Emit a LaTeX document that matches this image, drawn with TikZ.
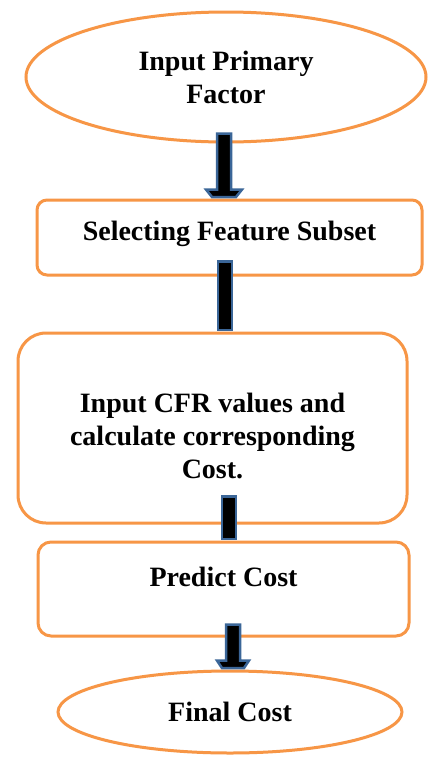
\documentclass[tikz,border=0pt]{standalone}
\usepackage{fontspec}
\setmainfont{Liberation Serif}
\usetikzlibrary{shapes.geometric,calc}
\definecolor{boxorange}{HTML}{F79646}
\definecolor{arrowblue}{HTML}{3B6698}
\tikzset{
  flowshape/.style={draw=boxorange, line width=3pt, fill=white, inner sep=0pt,
    font=\fontsize{28}{33}\selectfont\bfseries, align=center},
  oval/.style={flowshape, ellipse},
  roundbox/.style={flowshape, rectangle},
  blockarrow/.style={fill=black, draw=arrowblue, line width=2.5pt, line join=miter}
}
\begin{document}
\begin{tikzpicture}[x=1pt,y=-1pt]
\useasboundingbox (0,0) rectangle (428,763);
\fill[white] (0,0) rectangle (428,763);

\node[oval, minimum width=400pt, minimum height=130pt] (e1) at (226,77) {Input Primary\\Factor};
\node[roundbox, rounded corners=10pt, minimum width=385pt, minimum height=75pt,
      text height=19pt, text depth=13.4pt] (b1) at (229.5,237.5) {Selecting Feature Subset};
\node[roundbox, rounded corners=28pt, minimum width=389pt, minimum height=190pt] (b2) at (212.5,428)
      {\rule{0pt}{35pt}Input CFR values and\\calculate corresponding\\Cost.};
\node[roundbox, rounded corners=13pt, minimum width=371pt, minimum height=94pt,
      text height=19pt, text depth=24.4pt] (b3) at (223.5,589) {Predict Cost};
\node[oval, minimum width=344pt, minimum height=82pt] (e2) at (230,712) {Final Cost};

% e1 -> b1 (with head)
\draw[blockarrow] let \p1=(e1.south), \p2=(b1.north) in
  (217pt,\y1+10pt) -- (231pt,\y1+10pt) -- (231pt,\y2+9pt) -- (242pt,\y2+9pt)
  -- (236pt,\y2+1.5pt) -- (212pt,\y2+1.5pt) -- (206pt,\y2+9pt) -- (217pt,\y2+9pt) -- cycle;
% b1 -> b2
\draw[blockarrow] let \p1=(b1.south), \p2=(b2.north) in
  (218pt,\y1+15pt) rectangle (232pt,\y2+1.5pt);
% b2 -> b3
\draw[blockarrow] let \p1=(b2.south), \p2=(b3.north) in
  (222pt,\y1+28pt) rectangle (236pt,\y2+1.5pt);
% b3 -> e2 (with head)
\draw[blockarrow] let \p1=(b3.south), \p2=(e2.north) in
  (226pt,\y1+13pt) -- (240pt,\y1+13pt) -- (240pt,\y2+9pt) -- (249pt,\y2+9pt)
  -- (244pt,\y2+1.5pt) -- (222pt,\y2+1.5pt) -- (217pt,\y2+9pt) -- (226pt,\y2+9pt) -- cycle;
\end{tikzpicture}
\end{document}
